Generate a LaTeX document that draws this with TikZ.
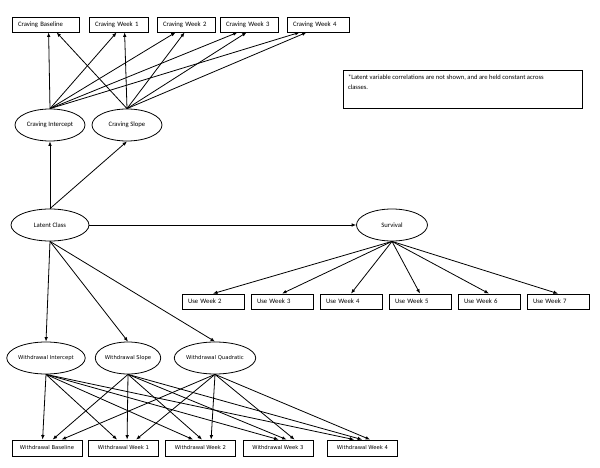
\documentclass[tikz,border=0pt]{standalone}
\usepackage{fontspec}
\setmainfont{Carlito}
\newfontfamily\wdfont{DejaVu Sans}
\usetikzlibrary{arrows.meta,calc,shapes.geometric}

\begin{document}
\begin{tikzpicture}[x=1pt,y=-1pt,line width=0.8pt,>={Latex[length=4.5pt,width=3.6pt]},
	latent/.style={draw,ellipse,inner sep=0pt,minimum width=#1,minimum height=32pt,font=\fontsize{6.7}{8}\selectfont},
	wlatent/.style={latent=#1,font=\wdfont\fontsize{5.3}{6}\selectfont},
	obs/.style={draw,rectangle,inner sep=0pt,inner xsep=6pt,minimum height=15pt,text width=#1,align=left,font=\fontsize{6.7}{8}\selectfont},
	wobs/.style={draw,rectangle,inner sep=0pt,minimum width=70pt,minimum height=16pt,font=\wdfont\fontsize{5.3}{6}\selectfont}]
				\useasboundingbox (0,0) rectangle (600,468);
				% craving part
				\node[obs=55pt] (cb) at (45.5,24.5) {Craving Baseline};
				\node[obs=47pt] (cw1) at (118.5,24.5) {Craving Week 1};
				\node[obs=46pt] (cw2) at (186,24.5) {Craving Week 2};
				\node[obs=46pt] (cw3) at (249,24.5) {Craving Week 3};
				\node[obs=50pt] (cw4) at (318,24.5) {Craving Week 4};
				\node[latent=70pt] (ci) at (50,125) {Craving Intercept};
				\node[latent=70pt] (cs) at (127,125) {Craving Slope};
				\foreach \b/\p/\q in {cb/37/45, cw1/28/36, cw2/19/28, cw3/18/27, cw4/13/20} {
					\draw[->] (ci.north) -- ($(\b.south west)+(\p,0)$);
					\draw[->] (cs.north) -- ($(\b.south west)+(\q,0)$);
				}
				\node[draw,minimum width=239pt,minimum height=38pt] (note) at (462.5,89) {};
				\node[anchor=north west,inner sep=0pt,align=left,font=\fontsize{6.6}{10}\selectfont] at ($(note.north west)+(5,4.5)$) {*Latent variable correlations are not shown, and are held constant across\\classes.};
				% latent class and survival
				\node[latent=78pt] (lc) at (50,225) {Latent Class};
				\node[latent=71pt] (surv) at (392,225) {Survival};
				\draw[->] (lc.north) -- (ci.south);
				\draw[->] (lc.north) -- (cs.south);
				\draw[->] (lc.east) -- (surv.west);
				\foreach \u/\x in {2/213,3/282,4/351,5/420,6/489,7/558} {
					\node[obs=50pt] (use\u) at (\x,301.5) {Use Week \u};
					\draw[->] (surv.south) -- (use\u.north);
				}
				% withdrawal part
				\node[wlatent=70pt] (wi) at (46,358) {Withdrawal Intercept};
				\node[wlatent=64pt] (ws) at (128,358) {Withdrawal Slope};
				\node[wlatent=70pt] (wq) at (215,358) {Withdrawal Quadratic};
				\draw[->] (lc.south) -- (wi.north);
				\draw[->] (lc.south) -- (ws.north);
				\draw[->] (lc.south) -- (wq.north);
				\node[wobs] (wb) at (47,448) {Withdrawal Baseline};
				\node[wobs] (ww1) at (123.5,448) {Withdrawal Week 1};
				\node[wobs] (ww2) at (200.5,448) {Withdrawal Week 2};
				\node[wobs] (ww3) at (278,448) {Withdrawal Week 3};
				\node[wobs] (ww4) at (362.5,448) {Withdrawal Week 4};
				\foreach \b/\p/\q/\r in {wb/31/41/50, ww1/29/39/48, ww2/28/37/46, ww3/36/44/52, ww4/27/35/43} {
					\draw[->] (wi.south) -- ($(\b.north west)+(\p,0)$);
					\draw[->] (ws.south) -- ($(\b.north west)+(\q,0)$);
					\draw[->] (wq.south) -- ($(\b.north west)+(\r,0)$);
				}
			\end{tikzpicture}
\end{document}
